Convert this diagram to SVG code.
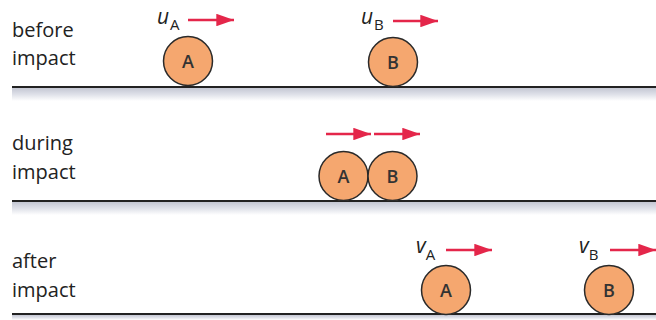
<svg xmlns="http://www.w3.org/2000/svg" width="656" height="320" viewBox="0 0 656 320">
<defs>
<linearGradient id="shade" x1="0" y1="0" x2="0" y2="1">
<stop offset="0" stop-color="#c4c7d3"/>
<stop offset="0.5" stop-color="#dfe1e9"/>
<stop offset="1" stop-color="#ffffff"/>
</linearGradient>
<marker id="ah" viewBox="0 0 10 10" refX="10" refY="5" markerWidth="6.8" markerHeight="4.8" markerUnits="strokeWidth" orient="auto" preserveAspectRatio="none">
<path d="M0,0 L10,5 L0,10 Z" fill="#e4264a"/>
</marker>
<style>
.lbl{font-family:"Open Sans","Noto Sans",sans-serif;font-size:20px;fill:#222}
.ball circle{fill:#f5a76f;stroke:#2a2a2a;stroke-width:1.5}
.ball text{font-family:"Open Sans","Noto Sans",sans-serif;font-size:18px;font-weight:600;fill:#333;text-anchor:middle}
.var{font-family:"Open Sans","Noto Sans",sans-serif;font-size:21px;font-style:italic;fill:#222}
.sub{font-family:"Open Sans","Noto Sans",sans-serif;font-size:15px;fill:#222}
.arr{stroke:#e4264a;stroke-width:2.6;fill:none;marker-end:url(#ah)}
.ground{stroke:#222;stroke-width:2}
</style>
</defs>
<rect width="656" height="320" fill="#fff"/>
<g id="grounds">
<rect x="12" y="88" width="644" height="13" fill="url(#shade)"/>
<line class="ground" x1="12" y1="87" x2="656" y2="87"/>
<rect x="12" y="202" width="644" height="13" fill="url(#shade)"/>
<line class="ground" x1="12" y1="201" x2="656" y2="201"/>
<rect x="12" y="315" width="644" height="5" fill="url(#shade)"/>
<line class="ground" x1="12" y1="314" x2="656" y2="314"/>
</g>
<g id="labels">
<text class="lbl" x="12" y="37">before</text>
<text class="lbl" x="12" y="65">impact</text>
<text class="lbl" x="12" y="150">during</text>
<text class="lbl" x="12" y="179">impact</text>
<text class="lbl" x="12" y="268">after</text>
<text class="lbl" x="12" y="297">impact</text>
</g>
<g id="ballA1" class="ball"><circle cx="188" cy="61" r="24.5"/><text x="188" y="67.5">A</text></g>
<g id="ballB1" class="ball"><circle cx="393" cy="62" r="24.5"/><text x="393" y="68.5">B</text></g>
<g id="ballA2" class="ball"><circle cx="343.5" cy="176" r="24.5"/><text x="343.5" y="182.5">A</text></g>
<g id="ballB2" class="ball"><circle cx="392.5" cy="176" r="24.5"/><text x="392.5" y="182.5">B</text></g>
<g id="ballA3" class="ball"><circle cx="446" cy="290" r="24.5"/><text x="446" y="296.5">A</text></g>
<g id="ballB3" class="ball"><circle cx="609" cy="290" r="24.5"/><text x="609" y="296.5">B</text></g>
<g id="velocities">
<text x="157" y="24"><tspan class="var">u</tspan><tspan class="sub" dx="1" dy="6">A</tspan></text>
<text x="361" y="24"><tspan class="var">u</tspan><tspan class="sub" dx="1" dy="6">B</tspan></text>
<text x="416" y="253"><tspan class="var">v</tspan><tspan class="sub" dy="7">A</tspan></text>
<text x="579" y="253"><tspan class="var">v</tspan><tspan class="sub" dy="7">B</tspan></text>
</g>
<g id="connectors">
<line class="arr" x1="188" y1="20" x2="234" y2="20"/>
<line class="arr" x1="393" y1="21" x2="438" y2="21"/>
<line class="arr" x1="326" y1="134" x2="371" y2="134"/>
<line class="arr" x1="374" y1="134" x2="420" y2="134"/>
<line class="arr" x1="446" y1="250" x2="492" y2="250"/>
<line class="arr" x1="610" y1="250" x2="656" y2="250"/>
</g>
</svg>
